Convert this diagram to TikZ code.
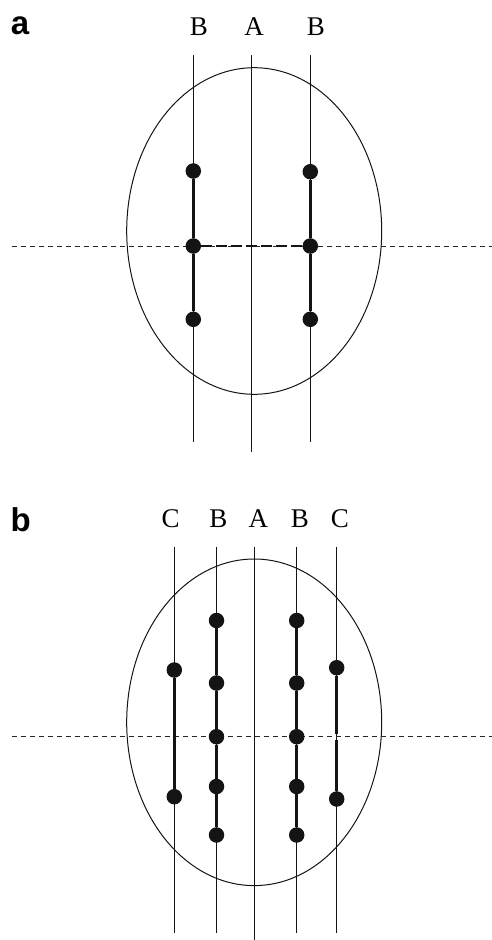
\documentclass[tikz,border=0pt]{standalone}
\usepackage{fontspec}
\setmainfont{Liberation Serif}
\newfontfamily\panelfont{Liberation Sans}
\begin{document}
\begin{tikzpicture}[x=1pt,y=-1pt,
  thinline/.style={line width=1pt,color=black!92},
  thickline/.style={line width=2.5pt,color=black!92},
  dot/.style={circle,fill=black!92,draw=none,inner sep=0pt,minimum size=15.5pt},
  guide/.style={line width=1pt,color=black!85,dash pattern=on 5pt off 4pt},
  bond/.style={line width=2.3pt,color=black!92,dash pattern=on 11pt off 4pt},
  lab/.style={anchor=base,font=\fontsize{27}{31}\selectfont,inner sep=0pt},
  panel/.style={anchor=base,font=\panelfont\bfseries\fontsize{33}{37}\selectfont,inner sep=0pt}]
\useasboundingbox (0,0) rectangle (492,940);

% ---------------- panel a ----------------
\node[panel] (pa) at (20,34) {a};
\node[lab] (laB1) at (199,35.7) {B};
\node[lab] (laA) at (254,35.7) {A};
\node[lab] (laB2) at (316,35.7) {B};

\draw[thinline] (254.2,231) ellipse [x radius=127.5, y radius=163.3];

\coordinate (aB1t) at (193.3,55);  \coordinate (aB1b) at (193.3,441.7);
\coordinate (aAt)  at (251.7,55);  \coordinate (aAb)  at (251.7,451.7);
\coordinate (aB2t) at (310.3,55);  \coordinate (aB2b) at (310.3,441.7);
\draw[thinline] (aB1t) -- (aB1b);
\draw[thinline] (aAt) -- (aAb);
\draw[thinline] (aB2t) -- (aB2b);

\coordinate (ag1) at (11.7,246); \coordinate (ag2) at (492,246);
\draw[guide] (ag1) -- (ag2);

\node[dot] (aL1) at (193.3,171) {};
\node[dot] (aL2) at (193.3,246) {};
\node[dot] (aL3) at (193.3,319.3) {};
\node[dot] (aR1) at (310.3,171.7) {};
\node[dot] (aR2) at (310.3,246) {};
\node[dot] (aR3) at (310.3,319.3) {};
\draw[thickline] (aL1) -- (aL2) -- (aL3);
\draw[thickline] (aR1) -- (aR2) -- (aR3);
\draw[bond] (aL2) -- (aR2);

% ---------------- panel b ----------------
\node[panel] (pb) at (20.7,531) {b};
\node[lab] (lbC1) at (170.7,527) {C};
\node[lab] (lbB1) at (218.3,527) {B};
\node[lab] (lbA)  at (258.3,527) {A};
\node[lab] (lbB2) at (300,527) {B};
\node[lab] (lbC2) at (340,527) {C};

\draw[thinline] (254.2,722.3) ellipse [x radius=127.5, y radius=163.3];

\coordinate (bC1t) at (174.3,546.7); \coordinate (bC1b) at (174.3,933);
\coordinate (bB1t) at (216.5,546.7); \coordinate (bB1b) at (216.5,933);
\coordinate (bAt)  at (254.3,546.7); \coordinate (bAb)  at (254.3,940);
\coordinate (bB2t) at (296.7,546.7); \coordinate (bB2b) at (296.7,933);
\coordinate (bC2t) at (336.7,546.7); \coordinate (bC2b) at (336.7,933);
\draw[thinline] (bC1t) -- (bC1b);
\draw[thinline] (bB1t) -- (bB1b);
\draw[thinline] (bAt) -- (bAb);
\draw[thinline] (bB2t) -- (bB2b);
\draw[thinline] (bC2t) -- (bC2b);

\coordinate (bg1) at (11.7,736.7); \coordinate (bg2) at (492,736.7);
\draw[guide] (bg1) -- (bg2);

\node[dot] (bC11) at (174.3,670) {};
\node[dot] (bC12) at (174.3,796.7) {};
\node[dot] (bB11) at (216.5,620.5) {};
\node[dot] (bB12) at (216.5,683) {};
\node[dot] (bB13) at (216.5,736.7) {};
\node[dot] (bB14) at (216.5,786.5) {};
\node[dot] (bB15) at (216.5,835) {};
\node[dot] (bB21) at (296.7,620.5) {};
\node[dot] (bB22) at (296.7,683) {};
\node[dot] (bB23) at (296.7,736.7) {};
\node[dot] (bB24) at (296.7,786.5) {};
\node[dot] (bB25) at (296.7,835) {};
\node[dot] (bC21) at (336.7,667.7) {};
\node[dot] (bC22) at (336.7,799) {};
\coordinate (bC2g1) at (336.7,734);
\coordinate (bC2g2) at (336.7,740);

\draw[thickline] (bC11) -- (bC12);
\draw[thickline] (bB11) -- (bB12) -- (bB13) -- (bB14) -- (bB15);
\draw[thickline] (bB21) -- (bB22) -- (bB23) -- (bB24) -- (bB25);
\draw[thickline] (bC21) -- (bC2g1);
\draw[thickline] (bC2g2) -- (bC22);
\end{tikzpicture}
\end{document}
